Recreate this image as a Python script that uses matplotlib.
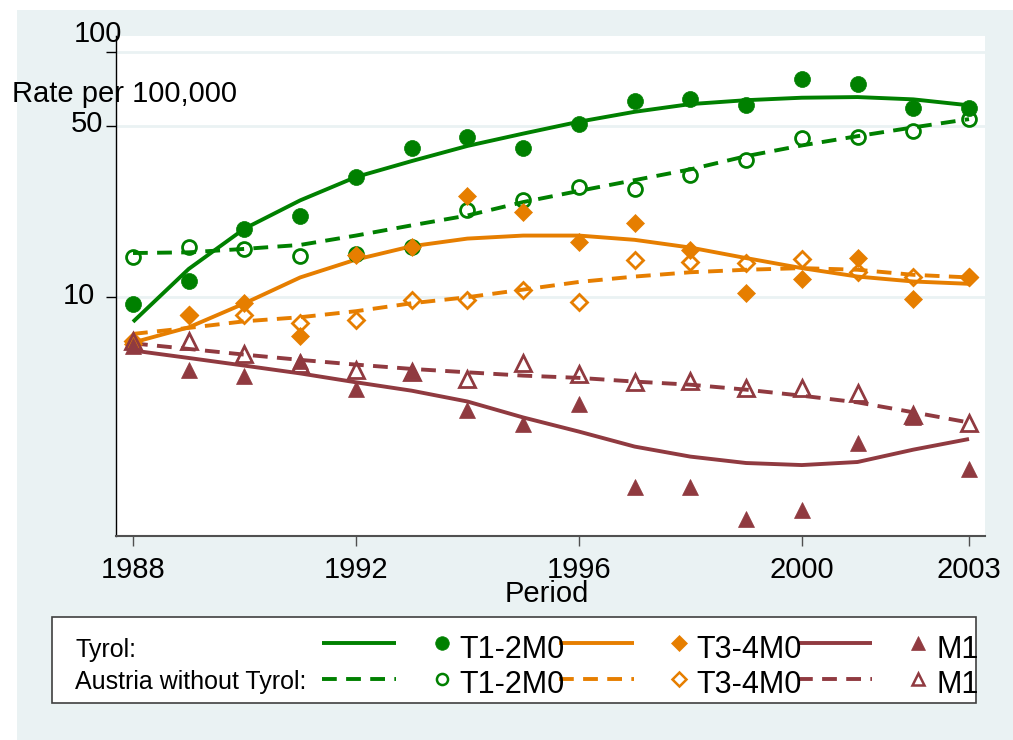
import matplotlib
matplotlib.use('Agg')
import matplotlib.pyplot as plt
from matplotlib.patches import Rectangle
from matplotlib.lines import Line2D
from matplotlib.ticker import NullLocator
import matplotlib.transforms as mtrans

plt.rcParams['font.family'] = ['Liberation Sans', 'DejaVu Sans']

# ---------------- data ----------------
years = list(range(1988, 2004))
xticks = [1988, 1992, 1996, 2000, 2003]
yticks = [10, 50, 100]

tyr_t12 = [9.3, 11.6, 19.0, 21.4, 30.9, 40.6, 45.0, 40.6, 50.8, 63.3, 64.4, 60.7, 78.0, 74.3, 59.0, 59.3]
tyr_t12_fit = [7.9, 13.0, 19.0, 24.8, 30.9, 35.9, 41.4, 46.5, 52.0, 57.1, 61.4, 63.7, 65.2, 65.6, 64.2, 60.7]
aut_t12 = [14.6, 16.0, 15.7, 14.7, 14.9, 16.0, 22.7, 25.0, 28.1, 27.7, 31.6, 36.4, 44.7, 45.1, 47.7, 53.3]
aut_t12_fit = [15.1, 15.2, 15.7, 16.3, 17.8, 19.6, 21.5, 24.4, 27.1, 30.0, 33.2, 37.6, 41.6, 45.4, 49.3, 53.3]

tyr_t34 = [6.4, 8.4, 9.4, 6.9, 14.8, 16.0, 25.8, 22.2, 16.7, 20.0, 15.5, 10.4, 11.8, 14.4, 9.8, 12.0]
tyr_t34_fit = [6.5, 7.5, 9.4, 12.0, 14.2, 16.1, 17.3, 17.8, 17.8, 17.1, 15.9, 14.4, 13.1, 12.1, 11.55, 11.3]
aut_t34 = [6.6, 8.4, 8.4, 7.8, 8.0, 9.7, 9.7, 10.7, 9.5, 14.2, 13.9, 13.7, 14.3, 12.6, 12.0, 12.0]
aut_t34_fit = [7.05, 7.46, 7.94, 8.25, 8.73, 9.41, 9.96, 10.7, 11.5, 12.1, 12.6, 12.9, 13.1, 12.9, 12.3, 12.0]

tyr_m1 = [6.3, 5.0, 4.76, 5.48, 4.2, 4.99, 3.44, 3.03, 3.64, 1.67, 1.67, 1.23, 1.34, 2.52, 3.21, 1.97]
tyr_m1_fit = [6.03, 5.62, 5.23, 4.86, 4.47, 4.13, 3.73, 3.21, 2.81, 2.44, 2.22, 2.09, 2.05, 2.11, 2.37, 2.62]
aut_m1 = [6.62, 6.58, 5.84, 5.31, 5.02, 4.91, 4.61, 5.34, 4.84, 4.47, 4.54, 4.22, 4.24, 4.03, 3.3, 3.06]
aut_m1_fit = [6.45, 6.12, 5.80, 5.52, 5.28, 5.07, 4.91, 4.76, 4.66, 4.50, 4.37, 4.17, 3.94, 3.70, 3.37, 3.06]

legend_rows = ['Tyrol:', 'Austria without Tyrol:']
group_labels = ['T1-2M0', 'T3-4M0', 'M1']

# ---------------- style ----------------
GREEN = '#008000'
ORANGE = '#E67E00'
MAROON = '#903A40'
BG = '#EAF2F3'
LW = 2.8
DASH = (3.8, 2.4)

W, H = 1013, 740
fig = plt.figure(figsize=(W / 100, H / 100), dpi=100)
fig.patch.set_facecolor('white')

bg = fig.add_axes([0, 0, 1, 1], zorder=0)
bg.set_xlim(0, W)
bg.set_ylim(H, 0)
bg.axis('off')
bg.add_patch(Rectangle((17, 10), W - 17, H - 10, fc=BG, ec='none'))
bg.add_patch(Rectangle((52, 617), 976 - 52, 703 - 617, fc='white', ec='#404040', lw=1.2))

ax = fig.add_axes([116 / W, 1 - 536 / H, (985 - 116) / W, (536 - 36) / H], zorder=1)
ax.set_facecolor('white')
ax.set_yscale('log')
ax.set_ylim(1.051, 116.6)
ax.set_xlim(1987.695, 2003.287)

for v in yticks:
    ax.axhline(v, color=BG, lw=2.0, zorder=0.5)

series = [
    (tyr_t12_fit, tyr_t12, GREEN, '-', 'o', True),
    (aut_t12_fit, aut_t12, GREEN, '--', 'o', False),
    (tyr_t34_fit, tyr_t34, ORANGE, '-', 'D', True),
    (aut_t34_fit, aut_t34, ORANGE, '--', 'D', False),
    (tyr_m1_fit, tyr_m1, MAROON, '-', '^', True),
    (aut_m1_fit, aut_m1, MAROON, '--', '^', False),
]

msize = {'o': (11.5, 10.0), 'D': (9.5, 8.6), '^': (12.0, 11.0)}

for fit, pts, col, ls, mk, filled in series:
    ln, = ax.plot(years, fit, color=col, lw=LW, solid_capstyle='butt', zorder=2)
    if ls == '--':
        ln.set_dashes(DASH)
        ln.set_dash_capstyle('butt')
for fit, pts, col, ls, mk, filled in series:
    if filled:
        ax.plot(years, pts, ls='none', marker=mk, ms=msize[mk][0], mfc=col, mec=col, mew=0.5, zorder=3)
    else:
        ax.plot(years, pts, ls='none', marker=mk, ms=msize[mk][1], mfc='none', mec=col, mew=2.0, zorder=3)

for s in ['top', 'right']:
    ax.spines[s].set_visible(False)
ax.spines['left'].set_color('black')
ax.spines['left'].set_linewidth(1.0)
ax.spines['bottom'].set_color('#505050')
ax.spines['bottom'].set_linewidth(1.5)

ax.yaxis.set_minor_locator(NullLocator())
ax.set_yticks(yticks)
ax.set_yticklabels([''] * len(yticks))
ax.tick_params(axis='y', which='major', direction='out', length=7.2, width=1.0, color='black')

ax.set_xticks(xticks)
ax.set_xticklabels([str(x) for x in xticks], fontsize=21)
ax.tick_params(axis='x', which='major', direction='out', length=7.2, width=1.0, color='#505050', pad=7.5)
ax.xaxis.set_minor_locator(NullLocator())

ax.set_xlabel('Period', fontsize=21)
ax.xaxis.label.set_verticalalignment('baseline')
ax.xaxis.set_label_coords(0.4955, (536 - 601.7) / 500)

# y tick labels (Stata-style placement)
ytl = {100: (121.7, 10.0), 50: (103.3, -6.3), 10: (95.0, -7.0)}
for v in yticks:
    xr, dy = ytl[v]
    tr = mtrans.blended_transform_factory(fig.transFigure, ax.transData) + \
        mtrans.ScaledTranslation(0, dy / 100, fig.dpi_scale_trans)
    fig.text(xr / W, v, str(v), transform=tr, ha='right', va='baseline', fontsize=21, zorder=5)

fig.text(11.7 / W, 1 - 101.7 / H, 'Rate per 100,000', ha='left', va='baseline', fontsize=21, zorder=5)

# ---------------- legend ----------------
row_y = [642.5, 678.7]
row_txt_base = [657.5, 689.0]
lab_base = [657.5, 693.0]
line_x = [(321.7, 395.7), (559.3, 634.0), (798.3, 872.3)]
mark_x = [442.0, 679.3, 918.3]
lab_x = [459.3, 696.7, 936.7]
cols = [GREEN, ORANGE, MAROON]
marks = ['o', 'D', '^']

for r in range(2):
    bg.text(75, row_txt_base[r], legend_rows[r], fontsize=18, ha='left', va='baseline')
    for g in range(3):
        l = Line2D(line_x[g], [row_y[r], row_y[r]], color=cols[g], lw=LW, solid_capstyle='butt')
        if r == 1:
            l.set_dashes(DASH)
            l.set_dash_capstyle('butt')
        bg.add_line(l)
        mk = marks[g]
        if r == 0:
            bg.plot([mark_x[g]], [row_y[r]], marker=mk, ms=msize[mk][0] * 0.85, mfc=cols[g], mec=cols[g], mew=0.5, ls='none')
        else:
            bg.plot([mark_x[g]], [row_y[r]], marker=mk, ms=msize[mk][1] * 0.8, mfc='none', mec=cols[g], mew=1.8, ls='none')
        bg.text(lab_x[g], lab_base[r], group_labels[g], fontsize=22, ha='left', va='baseline', zorder=4)

fig.savefig('out.png', dpi=100, facecolor='white')
